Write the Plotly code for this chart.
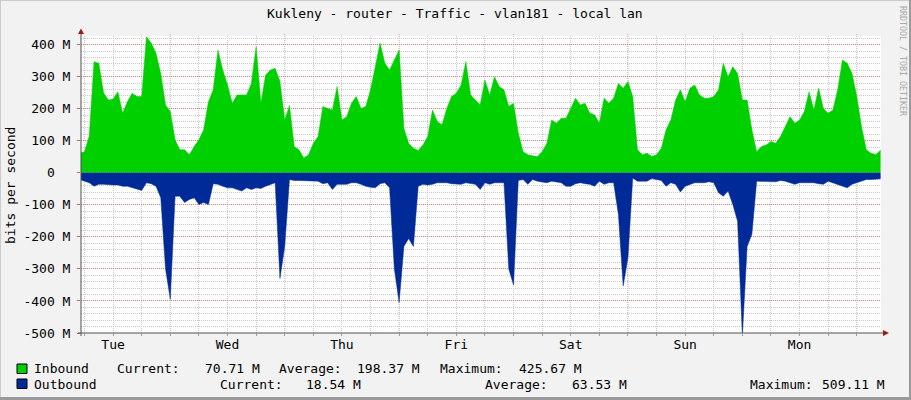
import datetime as dt
import plotly.graph_objects as go

# chart text
title = "Kukleny - router - Traffic - vlan181 - local lan"
y_label = "bits per second"
watermark = "RRDTOOL / TOBI OETIKER"

# hourly samples (M bits/s) starting Tuesday 05:00
start = dt.datetime(2024, 1, 2, 5, 0)
inbound = [
    61, 66, 115, 347, 342, 250, 227, 230, 253, 186, 222, 248, 238, 238, 425, 405,
    373, 310, 212, 191, 103, 72, 72, 56, 82, 103, 134, 222, 259, 383, 321, 274,
    217, 243, 243, 243, 279, 394, 217, 305, 321, 326, 285, 165, 210, 82, 72, 46,
    56, 92, 113, 207, 201, 196, 269, 165, 175, 217, 238, 201, 207, 259, 331, 405,
    342, 321, 352, 383, 139, 92, 77, 70, 87, 113, 196, 160, 150, 201, 238, 248,
    274, 347, 243, 227, 212, 290, 243, 300, 269, 259, 207, 217, 124, 66, 56, 53,
    51, 66, 92, 165, 155, 170, 170, 201, 233, 212, 217, 186, 181, 155, 233, 217,
    233, 279, 264, 285, 238, 72, 56, 61, 51, 56, 77, 134, 165, 227, 259, 222,
    264, 274, 243, 233, 233, 238, 259, 342, 300, 331, 310, 227, 227, 134, 66, 82,
    87, 98, 92, 113, 144, 175, 155, 165, 191, 253, 196, 264, 201, 186, 196, 259,
    352, 342, 310, 238, 144, 72, 61, 56, 71,
]
outbound = [
    21, 26, 31, 42, 36, 36, 38, 38, 38, 42, 42, 47, 52, 55, 31, 34,
    42, 78, 300, 395, 73, 73, 93, 83, 78, 99, 93, 99, 34, 36, 42, 47,
    47, 52, 57, 47, 52, 47, 49, 42, 36, 31, 330, 230, 21, 24, 24, 24,
    24, 26, 26, 34, 31, 52, 36, 36, 36, 31, 31, 36, 42, 45, 47, 34,
    31, 47, 300, 405, 230, 205, 230, 42, 36, 38, 36, 31, 31, 31, 34, 36,
    36, 31, 34, 36, 52, 31, 36, 31, 31, 31, 300, 350, 24, 21, 36, 21,
    26, 28, 31, 26, 28, 31, 42, 42, 34, 31, 34, 36, 42, 26, 36, 31,
    31, 130, 353, 265, 16, 26, 26, 26, 18, 21, 24, 42, 31, 36, 60, 42,
    36, 31, 31, 31, 28, 31, 62, 73, 57, 99, 151, 509, 230, 192, 26, 26,
    26, 26, 28, 24, 26, 31, 36, 31, 31, 31, 31, 34, 36, 26, 31, 36,
    42, 47, 36, 31, 26, 21, 21, 19, 18.5,
]

# legend figures as printed under the graph
inbound_stats = ["70.71 M", "198.37 M", "425.67 M"]
outbound_stats = ["18.54 M", "63.53 M", "509.11 M"]

day_names = ["Tue", "Wed", "Thu", "Fri", "Sat", "Sun", "Mon"]
y_ticks = list(range(-500, 401, 100))

times = [start + dt.timedelta(hours=i) for i in range(len(inbound))]
noons = [dt.datetime(2024, 1, 2, 12) + dt.timedelta(days=i) for i in range(7)]
midnights = [dt.datetime(2024, 1, 3) + dt.timedelta(days=i) for i in range(7)]

GREEN = "#00CF00"
BLUE = "#002A97"
FONT = "DejaVu Sans Mono"
MINOR = "#c8c8c8"
MAJOR = "rgba(255,0,0,0.4)"


# pixel -> paper helpers for the plot box (81..881 x 36..333)
def px(x):
    return (x - 81) / 800


def py(y):
    return (333 - y) / 297


fig = go.Figure()
fig.add_trace(go.Scatter(x=times, y=inbound, mode="lines", fill="tozeroy",
                         line=dict(width=0.5, color=GREEN), fillcolor=GREEN,
                         name="Inbound", hoverinfo="skip"))
fig.add_trace(go.Scatter(x=times, y=[-v for v in outbound], mode="lines", fill="tozeroy",
                         line=dict(width=0.5, color=BLUE), fillcolor=BLUE,
                         name="Outbound", hoverinfo="skip"))

shapes = []
# midnight day separators
for m in midnights:
    shapes.append(dict(type="line", xref="x", yref="paper", x0=m, x1=m, y0=0, y1=1.01,
                       line=dict(color=MAJOR, width=1, dash="1px,1px"), layer="between"))
# axis lines and arrows
AX = "#505050"
shapes.append(dict(type="line", xref="paper", yref="paper", x0=px(81), x1=px(81),
                   y0=py(336), y1=py(32), line=dict(color=AX, width=1)))
shapes.append(dict(type="line", xref="paper", yref="paper", x0=px(78), x1=px(884),
                   y0=py(333), y1=py(333), line=dict(color=AX, width=1)))
shapes.append(dict(type="path", xref="paper", yref="paper",
                   path=f"M {px(78)},{py(34)} L {px(84)},{py(34)} L {px(81)},{py(28.5)} Z",
                   fillcolor="#a01818", line=dict(width=0)))
shapes.append(dict(type="path", xref="paper", yref="paper",
                   path=f"M {px(883)},{py(330)} L {px(883)},{py(336)} L {px(889)},{py(333)} Z",
                   fillcolor="#a01818", line=dict(width=0)))
# frame round the image
shapes.append(dict(type="rect", xref="paper", yref="paper", x0=px(0), x1=px(911),
                   y0=py(0), y1=py(1), fillcolor="#cbcbcb", line=dict(width=0)))
shapes.append(dict(type="rect", xref="paper", yref="paper", x0=px(0), x1=px(1),
                   y0=py(0), y1=py(400), fillcolor="#cbcbcb", line=dict(width=0)))
shapes.append(dict(type="rect", xref="paper", yref="paper", x0=px(0), x1=px(911),
                   y0=py(397), y1=py(400), fillcolor="#9a9a9a", line=dict(width=0)))
shapes.append(dict(type="rect", xref="paper", yref="paper", x0=px(909), x1=px(911),
                   y0=py(0), y1=py(400), fillcolor="#9a9a9a", line=dict(width=0)))
# legend swatches
for color, top in [(GREEN, 364), (BLUE, 379)]:
    shapes.append(dict(type="rect", xref="paper", yref="paper", x0=px(17), x1=px(27),
                       y0=py(top), y1=py(top + 9.5), fillcolor=color,
                       line=dict(color="black", width=1)))

ann = []


def text(s, x, y, anchor="left", size=13, color="black", angle=0):
    ann.append(dict(text=s, xref="paper", yref="paper", x=px(x), y=py(y),
                    xanchor=anchor, yanchor="middle", showarrow=False, textangle=angle,
                    font=dict(family=FONT, size=size, color=color), borderpad=0))


text(title, 455, 14, anchor="center")
text(y_label, 11, 186, anchor="center", angle=-90)
text(watermark, 903, 61, anchor="center", size=8.3, color="#a8a8a8", angle=90)

row1 = [("Inbound", 33), ("Current:", 116), (inbound_stats[0], 204), ("Average:", 278),
        (inbound_stats[1], 356), ("Maximum:", 439), (inbound_stats[2], 518)]
row2 = [("Outbound", 33), ("Current:", 219), (outbound_stats[0], 305), ("Average:", 484),
        (outbound_stats[1], 571), ("Maximum:", 749), (outbound_stats[2], 821)]
for s, x in row1:
    text(s, x, 368.5)
for s, x in row2:
    text(s, x, 384)

fig.update_layout(
    width=911, height=400, autosize=False,
    margin=dict(l=81, r=30, t=36, b=67),
    paper_bgcolor="#f2f2f2", plot_bgcolor="white",
    showlegend=False,
    font=dict(family=FONT, size=13, color="black"),
    shapes=shapes, annotations=ann,
    xaxis=dict(
        type="date",
        range=[dt.datetime(2024, 1, 2, 5, 16), dt.datetime(2024, 1, 9, 5, 5)],
        tickmode="array", tickvals=noons, ticktext=day_names,
        ticks="", showgrid=True, gridcolor=MINOR, griddash="1px,1px",
        minor=dict(dtick=6 * 3600 * 1000, tick0="2024-01-02 00:00", showgrid=True,
                   gridcolor=MINOR, griddash="1px,1px", ticks="outside", ticklen=2,
                   tickcolor="#999999"),
        zeroline=False, showline=False, ticklabelstandoff=2,
        tickfont=dict(family=FONT, size=13),
    ),
    yaxis=dict(
        range=[-500, 427],
        tickmode="array", tickvals=y_ticks,
        ticktext=[f"{v} M" if v != 0 else "0\u00a0\u00a0" for v in y_ticks],
        showgrid=True, gridcolor=MAJOR, griddash="1px,1px",
        minor=dict(dtick=20, tick0=0, showgrid=True, gridcolor=MINOR, griddash="1px,1px"),
        ticks="outside", ticklen=3, tickcolor="rgba(200,0,0,0.6)",
        zeroline=False, showline=False, ticklabelstandoff=4,
        tickfont=dict(family=FONT, size=13),
    ),
)

# page body has a default 8px margin; drop it so the figure sits at the corner
fig.write_html("out.html", config={"displayModeBar": False},
               post_script="document.body.style.margin='0';")
